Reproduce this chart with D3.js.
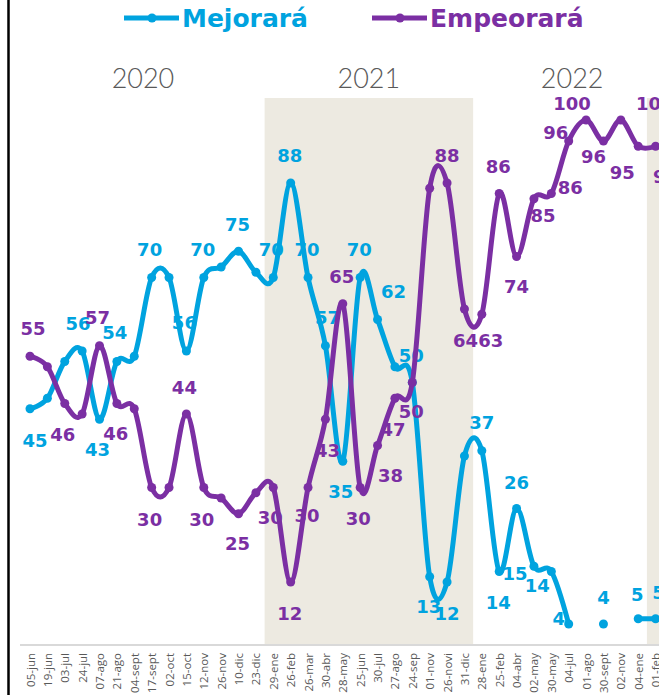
<!DOCTYPE html>
<html>
<head>
<meta charset="utf-8">
<script src="https://cdn.jsdelivr.net/npm/d3@7"></script>
<style>
  body { margin: 0; background: #fff; }
  svg { display: block; }
</style>
</head>
<body>
<div id="canvas"></div>
<script>
// categories (survey dates)
var fechas = ["05-jun","19-jun","03-jul","24-jul","07-ago","21-ago","04-sept","17-sept","02-oct","15-oct",
  "12-nov","26-nov","10-dic","23-dic","29-ene","26-feb","26-mar","30-abr","28-may","25-jun",
  "30-jul","27-ago","24-sep","01-nov","26-novi","31-dic","28-ene","25-feb","04-abr","02-may",
  "30-may","04-jul","01-ago","30-sept","02-nov","04-ene","01-feb"];

// series values
var mejorara = [45,47,54,56,43,54,55,70,70,56,
  70,72,75,71,70,88,70,57,35,70,
  62,53,50,13,12,36,37,14,26,15,
  14,4,null,4,null,5,5];
var empeorara = [55,53,46,44,57,46,45,30,30,44,
  30,28,25,29,30,12,30,43,65,30,
  38,47,50,87,88,64,63,86,74,85,
  86,96,100,96,100,95,95];

// year headings and their shaded periods (category index ranges, end exclusive)
var anios = ["2020","2021","2022"];
var aniosCentro = [6.5, 19.5, 31.2];
var sombras = [[14, 26], [36, 37]];

// label offsets (dx, dy) from each point, null = no label
var offMejora = [[5,32],null,null,[-4,-28],[-2,30],[-2,-29],null,[-2,-28],null,[-2,-29],
  [-1,-28],null,[-1,-27],null,[-2,-28],[-1,-28],[-1,-28],[2,-28],[-2,30],[-1,-28],
  [16,-28],null,[-1,-27],[-1,30],[0,31],null,[0,-28],[-1,31],[0,-26],[-19,7],
  [-14,14],[-10,-6],null,[0,-27],null,[-1,-24],[3,-26]];
var offEmpeora = [[3,-28],null,[-2,31],null,[-2,-28],[-1,30],null,[-2,32],null,[-2,-27],
  [-2,32],null,[-1,30],null,[-3,30],[-1,31],[-1,28],[2,31],[-1,-27],[-2,31],
  [13,30],[-2,31],[-1,29],null,[0,-28],[1,31],[9,26],[-1,-27],[0,30],[9,17],
  [19,-6],[-13,-9],[-14,-17],[-10,15],[34,-17],[-16,26],[10,30]];

var W = 659, H = 695;
var azul = "#00a3df", morado = "#7b2fa3";

var svg = d3.select("#canvas").append("svg")
  .attr("width", W).attr("height", H);

var x = d3.scalePoint().domain(d3.range(fechas.length)).range([30, 655.6]);
var y = d3.scaleLinear().domain([0, 100]).range([645, 120]);
var step = x.step();

// shaded year bands
sombras.forEach(function(s) {
  var x0 = x(s[0]) - step / 2;
  var x1 = s[1] < fechas.length ? x(s[1]) - step / 2 : W;
  svg.append("rect")
    .attr("x", x0).attr("y", 98)
    .attr("width", Math.min(x1, W) - x0).attr("height", 645 - 98)
    .attr("fill", "#edeae1");
});

// year headings
anios.forEach(function(a, i) {
  svg.append("text")
    .attr("x", 30 + aniosCentro[i] * step)
    .attr("y", 77)
    .attr("text-anchor", "middle")
    .attr("dominant-baseline", "central")
    .style("font-family", "Lato, 'Open Sans', sans-serif")
    .style("font-weight", 300)
    .style("font-size", "27px")
    .attr("fill", "#595959")
    .text(a);
});

// x axis
var xAxis = d3.axisBottom(x).tickSize(0).tickPadding(0).tickFormat(function(i) { return fechas[i]; });
var gx = svg.append("g").attr("transform", "translate(0,645)").call(xAxis);
gx.select(".domain").attr("d", "M20,0H" + W).attr("stroke", "#d9d9d9").attr("stroke-width", 2);
gx.selectAll("text")
  .attr("transform", "rotate(-90)")
  .attr("x", -8).attr("y", 0).attr("dy", "0.35em")
  .attr("text-anchor", "end")
  .style("font-family", "'Open Sans', sans-serif")
  .style("font-size", "11.5px")
  .attr("fill", "#595959");

// left frame line
svg.append("line").attr("x1", 8.5).attr("x2", 8.5).attr("y1", 0).attr("y2", H)
  .attr("stroke", "#000").attr("stroke-width", 2.5);

function drawSeries(values, color, offs) {
  var line = d3.line()
    .defined(function(d) { return d != null; })
    .x(function(d, i) { return x(i); })
    .y(function(d) { return y(d); })
    .curve(d3.curveCatmullRom.alpha(0));
  svg.append("path")
    .datum(values)
    .attr("fill", "none")
    .attr("stroke", color)
    .attr("stroke-width", 5)
    .attr("stroke-linejoin", "round")
    .attr("d", line);

  svg.append("g").selectAll("circle")
    .data(values.map(function(v, i) { return {v: v, i: i}; }).filter(function(d) { return d.v != null; }))
    .join("circle")
    .attr("cx", function(d) { return x(d.i); })
    .attr("cy", function(d) { return y(d.v); })
    .attr("r", 4.5)
    .attr("fill", color);

  svg.append("g").selectAll("text")
    .data(values.map(function(v, i) { return {v: v, i: i}; }).filter(function(d) { return d.v != null && offs[d.i]; }))
    .join("text")
    .attr("x", function(d) { return x(d.i) + offs[d.i][0]; })
    .attr("y", function(d) { return y(d.v) + offs[d.i][1]; })
    .attr("text-anchor", "middle")
    .attr("dominant-baseline", "central")
    .style("font-family", "'DejaVu Sans', sans-serif")
    .style("font-weight", "bold")
    .style("font-size", "18px")
    .attr("fill", color)
    .text(function(d) { return d.v; });
}

drawSeries(mejorara, azul, offMejora);
drawSeries(empeorara, morado, offEmpeora);

// legend
var leyenda = [{t: "Mejorará", c: azul, x: 124}, {t: "Empeorará", c: morado, x: 372}];
leyenda.forEach(function(l) {
  var g = svg.append("g").attr("transform", "translate(" + l.x + ",18)");
  g.append("line").attr("x1", 0).attr("x2", 55).attr("stroke", l.c).attr("stroke-width", 5);
  g.append("circle").attr("cx", 28).attr("r", 4.5).attr("fill", l.c);
  g.append("text").attr("x", 58).attr("dominant-baseline", "central")
    .style("font-family", "'DejaVu Sans', sans-serif")
    .style("font-weight", "bold")
    .style("font-size", "25px")
    .attr("fill", l.c)
    .text(l.t);
});
</script>
</body>
</html>
